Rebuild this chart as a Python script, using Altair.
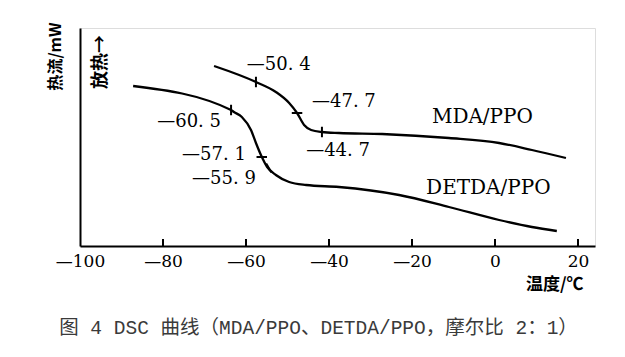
import altair as alt
import pandas as pd

# DETDA/PPO curve (temperature °C, heat-flow arbitrary units)
detda_T = [-87.2, -63.6, -62.9, -61.0, -58.8, -57.6, -56.4, -54.9, -52.8, -49.6, -45.5, -37.6, -23.1, -11.1, 1.0, 8.9, 14.9]
detda_v = [160, 136, 134, 129, 116, 103, 91, 79, 71, 64, 61, 59, 51, 39, 26, 19, 15]

# MDA/PPO curve
mda_T = [-67.7, -57.6, -52.8, -49.6, -47.7, -46.0, -44.3, -41.7, -37.6, -27.2, -11.1, 1.0, 8.9, 17.1]
mda_v = [180, 164, 154, 143, 133, 121, 116, 114, 113, 112, 108, 103, 96, 88]

# marker ticks on curves
mk_T = [-57.6, -47.7, -41.7, -63.6, -56.2, -54.5]
mk_v = [164, 133, 114, 136, 89, 78]
mk_angle = [0, 90, 0, 0, 90, 330]

# annotation labels
ann_text = ["—50. 4", "—47. 7", "—44. 7", "—60. 5", "—57. 1", "—55. 9", "MDA/PPO", "DETDA/PPO"]
ann_T = [-59.8, -44.1, -45.5, -81.4, -75.4, -73.0, -15.2, -16.6]
ann_v = [181, 144, 95, 124, 91, 67, 129, 58]
ann_size = [18, 18, 18, 18, 18, 18, 20, 20]

tick_vals = [-80, -60, -40, -20, 0, 20]

curves = pd.DataFrame(
    {"T": detda_T + mda_T, "v": detda_v + mda_v,
     "s": ["DETDA/PPO"] * len(detda_T) + ["MDA/PPO"] * len(mda_T)}
)
markers = pd.DataFrame({"T": mk_T, "v": mk_v, "a": mk_angle})
anns = pd.DataFrame({"t": ann_text, "T": ann_T, "v": ann_v, "fs": ann_size})
ticks = pd.DataFrame({"T": tick_vals, "v0": [0] * len(tick_vals), "v1": [7] * len(tick_vals)})
side = pd.DataFrame({"t": ["放热→"], "T": [-94.9], "v": [184]})

xs = alt.Scale(domain=[-100, 24.1], nice=False, zero=False)
ys = alt.Scale(domain=[0, 218], nice=False, zero=False)

xaxis = alt.Axis(
    values=tick_vals + [-100], grid=False, ticks=False, tickSize=0,
    domainColor="black", domainWidth=2, labelFlush=False, labelOverlap=False,
    labelFont="DejaVu Serif", labelFontSize=17, labelColor="black", labelPadding=7,
    labelExpr="datum.value < 0 ? '—' + abs(datum.value) : datum.value",
    title="温度/℃", titleFont="Noto Sans CJK SC", titleFontSize=17, titleFontWeight="bold",
    titleColor="black", titleAlign="right", titleBaseline="middle", titleAngle=0,
    titleX=503, titleY=38,
)
yaxis = alt.Axis(
    labels=False, ticks=False, grid=False, domainColor="black", domainWidth=2,
    title="热流/mW", titleFont="Noto Sans CJK SC", titleFontSize=16, titleFontWeight="bold",
    titleColor="black", titleAngle=270, titleAlign="center", titleBaseline="middle",
    titleX=-25, titleY=28,
)

lines = alt.Chart(curves).mark_line(color="black", strokeWidth=2.3, interpolate="monotone").encode(
    x=alt.X("T:Q", scale=xs, axis=xaxis),
    y=alt.Y("v:Q", scale=ys, axis=yaxis),
    detail="s:N",
)
mk = alt.Chart(markers).mark_point(shape="M0,-1L0,1", size=110, stroke="black", strokeWidth=2, filled=False, opacity=1).encode(
    x=alt.X("T:Q", scale=xs), y=alt.Y("v:Q", scale=ys), angle=alt.Angle("a:Q", scale=None)
)
txt = alt.Chart(anns).mark_text(align="left", baseline="middle", font="DejaVu Serif", color="black").encode(
    x=alt.X("T:Q", scale=xs), y=alt.Y("v:Q", scale=ys), text="t:N",
    size=alt.Size("fs:Q", scale=None),
)
tk = alt.Chart(ticks).mark_rule(color="black", strokeWidth=2).encode(
    x=alt.X("T:Q", scale=xs), y=alt.Y("v0:Q", scale=ys), y2="v1:Q"
)
sd = alt.Chart(side).mark_text(angle=270, align="center", baseline="middle", font="Noto Sans CJK SC",
                               fontSize=18, fontWeight="bold", color="black").encode(
    x=alt.X("T:Q", scale=xs), y=alt.Y("v:Q", scale=ys), text="t:N"
)

chart = alt.layer(lines, mk, txt, tk, sd).properties(
    width=515, height=218,
    autosize=alt.AutoSizeParams(type="none"),
    padding={"left": 72, "top": 20, "right": 22, "bottom": 100},
    title=alt.TitleParams(
        text="图 4 DSC 曲线（MDA/PPO、DETDA/PPO，摩尔比 2：1）",
        orient="bottom", anchor="middle", font="Liberation Mono, Noto Sans CJK SC",
        fontSize=19.5, fontWeight="normal", color="#3a3a3a", offset=27, dx=-19,
    ),
).configure_view(stroke=None).configure(background="white")

chart.save("out.html", embed_options={"renderer": "svg", "actions": False})
